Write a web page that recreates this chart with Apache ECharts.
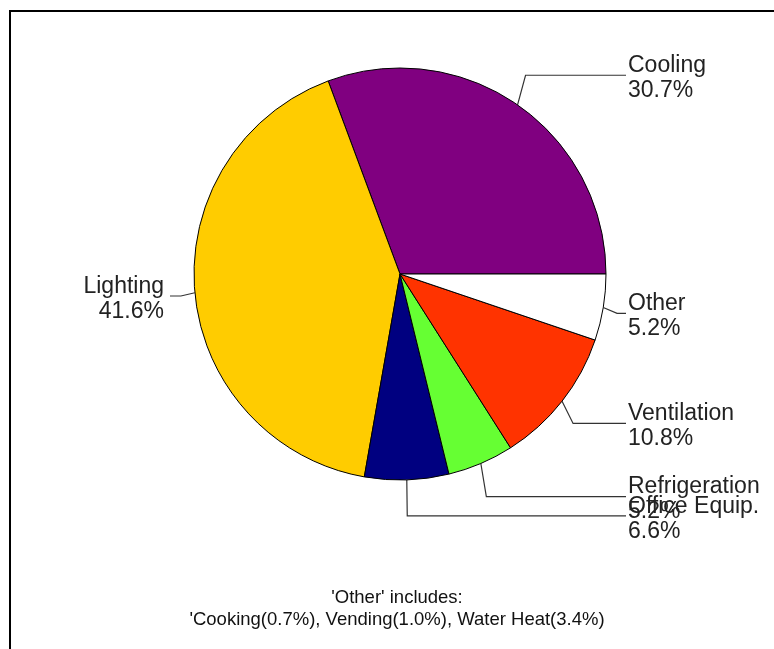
<!DOCTYPE html>
<html>
<head>
<meta charset="utf-8">
<script src="https://cdn.jsdelivr.net/npm/echarts@6/dist/echarts.min.js"></script>
<style>
  html, body { margin: 0; padding: 0; background: #fff; }
  #chart { width: 774px; height: 649px; }
</style>
</head>
<body>
<div id="chart"></div>
<script>
(function() {
  // data (percent of total use)
  var categories = ['Cooling', 'Lighting', 'Office Equip.', 'Refrigeration', 'Ventilation', 'Other'];
  var shares = [30.7, 41.6, 6.6, 5.2, 10.8, 5.2];
  var sliceColors = ['#800080', '#ffcc00', '#000080', '#66ff33', '#ff3300', '#ffffff'];
  var otherParts = ['Cooking(0.7%)', 'Vending(1.0%)', 'Water Heat(3.4%)'];

  var cx = 400, cy = 274, r = 206;
  // leader elbows sit on a slightly stretched ring, like the original
  var elbowX = r * 1.068, elbowY = r * 1.175;
  var rightEnd = cx + r + 20;   // where the right-hand leaders stop
  var leftEnd = cx - r - 24;

  // mid angle of each slice, counter-clockwise from 3 o'clock
  var total = shares.reduce(function(a, b) { return a + b; }, 0);
  var midAngles = [];
  var acc = 0;
  shares.forEach(function(v) {
    midAngles.push((acc + v / 2) / total * Math.PI * 2);
    acc += v;
  });

  var font = '"Liberation Sans", Arial, sans-serif';

  var chart = echarts.init(document.getElementById('chart'), null, { renderer: 'canvas' });
  chart.setOption({
    animation: false,
    backgroundColor: '#ffffff',
    graphic: [
      {
        type: 'rect',
        shape: { x: 10, y: 11, width: 900, height: 900 },
        style: { fill: null, stroke: '#000', lineWidth: 2 },
        silent: true
      },
      {
        type: 'text',
        x: 397, y: 598,
        style: {
          text: "'Other' includes:",
          font: '18.5px ' + font,
          fill: '#111', align: 'center', verticalAlign: 'middle'
        }
      },
      {
        type: 'text',
        x: 397, y: 620,
        style: {
          text: "'" + otherParts.join(', '),
          font: '18.5px ' + font,
          fill: '#111', align: 'center', verticalAlign: 'middle'
        }
      }
    ],
    series: [{
      type: 'pie',
      center: [cx, cy],
      radius: r,
      startAngle: 0,
      clockwise: false,
      avoidLabelOverlap: false,
      emphasis: { disabled: true },
      itemStyle: { borderColor: '#000', borderWidth: 1 },
      label: {
        show: true,
        position: 'outside',
        formatter: function(p) { return p.name + '\n' + p.value.toFixed(1) + '%'; },
        color: '#222',
        fontFamily: font,
        fontSize: 23,
        lineHeight: 25
      },
      labelLine: {
        show: true,
        length: 30,
        length2: 10,
        lineStyle: { color: '#333', width: 1.2 }
      },
      labelLayout: function(params) {
        var a = midAngles[params.dataIndex];
        var nx = Math.cos(a), ny = -Math.sin(a);
        var x1 = cx + r * nx, y1 = cy + r * ny;
        var x2 = cx + elbowX * nx, y2 = cy + elbowY * ny;
        var right = nx >= 0;
        var x3 = right ? rightEnd : leftEnd;
        return {
          x: right ? x3 + 2 : x3 - 6,
          y: y2 + 3,
          align: right ? 'left' : 'right',
          verticalAlign: 'middle',
          labelLinePoints: [[x1, y1], [x2, y2], [x3, y2]]
        };
      },
      data: categories.map(function(c, i) {
        return { name: c, value: shares[i], itemStyle: { color: sliceColors[i] } };
      })
    }]
  });
})();
</script>
</body>
</html>
